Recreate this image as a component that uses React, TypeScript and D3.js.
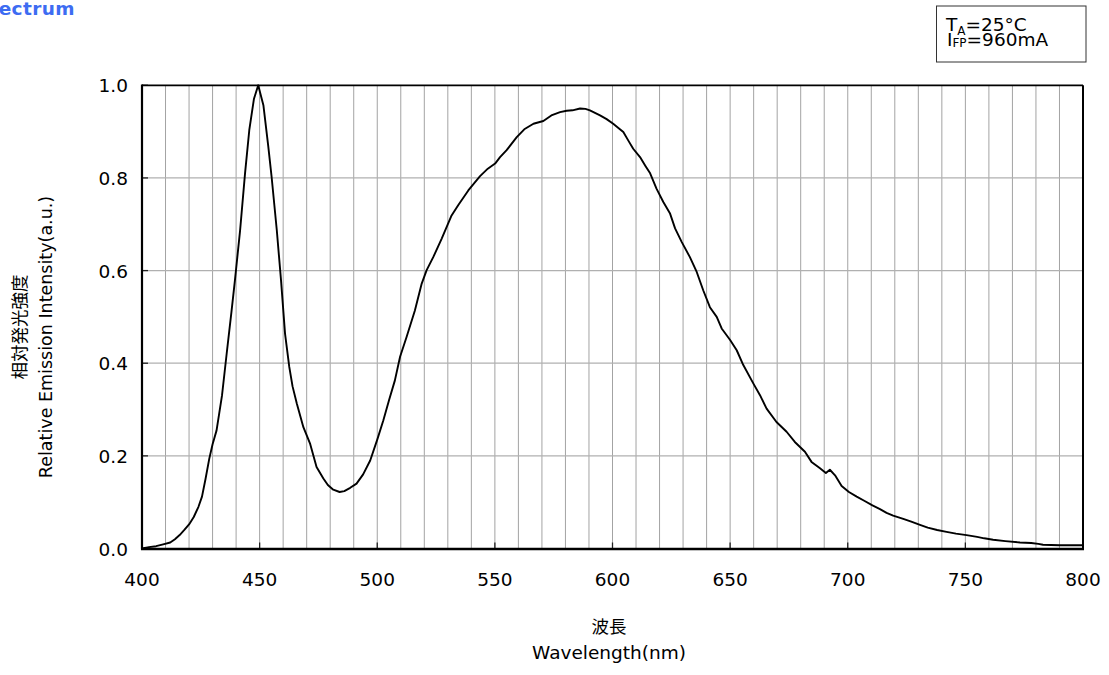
import React from "react";
import * as d3 from "d3";

const wavelengths = [
  400, 403, 406, 409, 412, 414, 416, 418, 420, 422, 424, 425.5, 427, 428.6, 430, 431.7, 434, 436, 438, 439.5,
  441.7, 443.8, 445.6, 447.6, 449.4, 451.6, 453.7, 455.1, 457.3, 459.1, 460.8, 462.6, 464, 465.8, 468.6, 471.4,
  474.2, 477.1, 479, 481.3, 484, 486, 488.5, 491.2, 494, 497, 500, 502.6, 505, 507.5, 509.7, 512.5, 516, 518.9,
  521, 523.8, 527.4, 531.6, 534.4, 538.7, 543.7, 547, 550.1, 552.2, 555, 559.3, 562.5, 566.4, 570.6, 574, 577.7,
  580.5, 583, 586.2, 588.5, 590.4, 594.7, 597.5, 600.3, 602.5, 604.6, 606.8, 608.8, 611.7, 614, 616, 618.7, 621.6,
  624.4, 626.6, 629.4, 632.9, 635.8, 638.6, 641.4, 644.3, 646.4, 650, 652.8, 655.6, 659.9, 662.7, 665.5, 669.7,
  674, 677.5, 681.8, 684.6, 688.2, 690.7, 692.4, 694.6, 697.4, 700.5, 703.8, 707, 710.5, 713.7, 716.5, 719.3,
  723.6, 727, 730.7, 734, 738, 742, 746, 750.5, 755, 758, 761.8, 767, 773.2, 778, 781, 783, 790, 800,
];
const intensities = [
  0.0, 0.003, 0.005, 0.009, 0.013, 0.02, 0.029, 0.04, 0.052, 0.068, 0.09, 0.112, 0.15, 0.194, 0.225, 0.255, 0.33, 0.421, 0.51, 0.579,
  0.687, 0.81, 0.903, 0.971, 1.0, 0.957, 0.867, 0.802, 0.687, 0.579, 0.464, 0.392, 0.35, 0.313, 0.262, 0.227,
  0.176, 0.151, 0.137, 0.127, 0.122, 0.124, 0.131, 0.14, 0.16, 0.19, 0.235, 0.277, 0.32, 0.363, 0.414, 0.457, 0.514, 0.572,
  0.601, 0.629, 0.669, 0.719, 0.741, 0.773, 0.804, 0.82, 0.831, 0.845, 0.86, 0.888, 0.905, 0.917, 0.923, 0.935, 0.942,
  0.945, 0.946, 0.95, 0.949, 0.946, 0.935, 0.927, 0.917, 0.908, 0.899, 0.88, 0.863, 0.845, 0.826, 0.81, 0.777, 0.748,
  0.724, 0.691, 0.662, 0.629, 0.597, 0.557, 0.521, 0.5, 0.475, 0.45, 0.428, 0.396, 0.356, 0.331, 0.302, 0.273,
  0.252, 0.23, 0.209, 0.187, 0.173, 0.163, 0.17, 0.158, 0.135, 0.122, 0.112, 0.103, 0.093, 0.085, 0.077, 0.071,
  0.064, 0.058, 0.051, 0.045, 0.04, 0.036, 0.032, 0.029, 0.025, 0.022, 0.019, 0.016, 0.013, 0.012, 0.01, 0.008, 0.007, 0.007,
];

const xTickValues = [400, 450, 500, 550, 600, 650, 700, 750, 800];
const yTickValues = [0, 0.2, 0.4, 0.6, 0.8, 1.0];
const xGridValues = d3.range(410, 800, 10);

const titleText = "Spectrum";
const yTitleJa = "相対発光強度";
const yTitleEn = "Relative Emission Intensity(a.u.)";
const xTitleJa = "波長";
const xTitleEn = "Wavelength(nm)";

const W = 1109;
const H = 675;
const X0 = 142;
const X1 = 1083;
const Y0 = 548.5;
const Y1 = 85.3;

const FONT = "'DejaVu Sans', Verdana, sans-serif";
const CJK = "'Noto Sans CJK JP', sans-serif";

export default function App() {
  const x = d3.scaleLinear().domain([400, 800]).range([X0, X1]);
  const y = d3.scaleLinear().domain([0, 1]).range([Y0, Y1]);
  const pts: [number, number][] = wavelengths.map((w, i) => [w, intensities[i]]);
  const line = d3
    .line<[number, number]>()
    .x((d) => x(d[0]))
    .y((d) => y(d[1]));

  return (
    <svg
      width={W}
      height={H}
      style={{ position: "absolute", left: 0, top: 0, background: "#fff" }}
    >
      <rect x={0} y={0} width={W} height={H} fill="#fff" />
      {/* title */}
      <text
        x={75}
        y={14.5}
        textAnchor="end"
        fontFamily={FONT}
        fontWeight="bold"
        fontSize={18.5}
        letterSpacing={0.4}
        fill="#3d6cf2"
      >
        {titleText}
      </text>

      {/* legend box */}
      <rect x={936.5} y={6} width={149.5} height={56} fill="#fff" stroke="#333" strokeWidth={1} />
      <text x={946} y={31} fontFamily={FONT} fontSize={18.5} fill="#000">
        T<tspan fontSize={12} dy={4}>A</tspan>
        <tspan dy={-4}>=25°C</tspan>
      </text>
      <text x={947} y={45.5} fontFamily={FONT} fontSize={18.5} fill="#000">
        I<tspan fontSize={12} dy={1}>FP</tspan>
        <tspan dy={-1}>=960mA</tspan>
      </text>

      {/* grid */}
      {xGridValues.map((v) => (
        <line key={"gx" + v} x1={x(v)} x2={x(v)} y1={Y1} y2={Y0} stroke="#a3a3a3" strokeWidth={1} />
      ))}
      {yTickValues
        .filter((v) => v > 0 && v < 1)
        .map((v) => (
          <line key={"gy" + v} x1={X0} x2={X1} y1={y(v)} y2={y(v)} stroke="#b0b0b0" strokeWidth={1.2} />
        ))}

      {/* ticks */}
      {xTickValues.map((v) => (
        <line key={"tx" + v} x1={x(v)} x2={x(v)} y1={Y0} y2={Y0 - 6} stroke="#222" strokeWidth={1.3} />
      ))}
      {yTickValues.map((v) => (
        <line key={"ty" + v} x1={X0} x2={X0 + 6} y1={y(v)} y2={y(v)} stroke="#222" strokeWidth={1.3} />
      ))}

      {/* curve */}
      <path d={line(pts) || ""} fill="none" stroke="#000" strokeWidth={1.9} strokeLinejoin="round" />

      {/* frame */}
      <line x1={X0} x2={X1} y1={Y1} y2={Y1} stroke="#000" strokeWidth={1.7} />
      <line x1={X1} x2={X1} y1={Y1} y2={Y0 + 1} stroke="#000" strokeWidth={2} />
      <line x1={X0} x2={X0} y1={Y1 - 0.8} y2={Y0 + 1} stroke="#000" strokeWidth={2.2} />
      <line x1={X0 - 1} x2={X1 + 1} y1={Y0 + 0.5} y2={Y0 + 0.5} stroke="#000" strokeWidth={2.4} />

      {/* tick labels */}
      {xTickValues.map((v) => (
        <text key={"lx" + v} x={x(v)} y={585.5} textAnchor="middle" fontFamily={FONT} fontSize={18.5} fill="#000">
          {v}
        </text>
      ))}
      {yTickValues.map((v) => (
        <text key={"ly" + v} x={128} y={y(v) + 7} textAnchor="end" fontFamily={FONT} fontSize={18.5} fill="#000">
          {v.toFixed(1)}
        </text>
      ))}

      {/* axis titles */}
      <text x={609} y={633} textAnchor="middle" fontFamily={CJK} fontSize={17.5} fill="#000">
        {xTitleJa}
      </text>
      <text x={609} y={659} textAnchor="middle" fontFamily={FONT} fontSize={18.5} fill="#000">
        {xTitleEn}
      </text>
      <text
        transform="translate(26,327) rotate(-90)"
        textAnchor="middle"
        fontFamily={CJK}
        fontSize={17.5}
        fill="#000"
      >
        {yTitleJa}
      </text>
      <text
        transform="translate(52,337) rotate(-90)"
        textAnchor="middle"
        fontFamily={FONT}
        fontSize={17.5}
        fill="#000"
      >
        {yTitleEn}
      </text>
    </svg>
  );
}
